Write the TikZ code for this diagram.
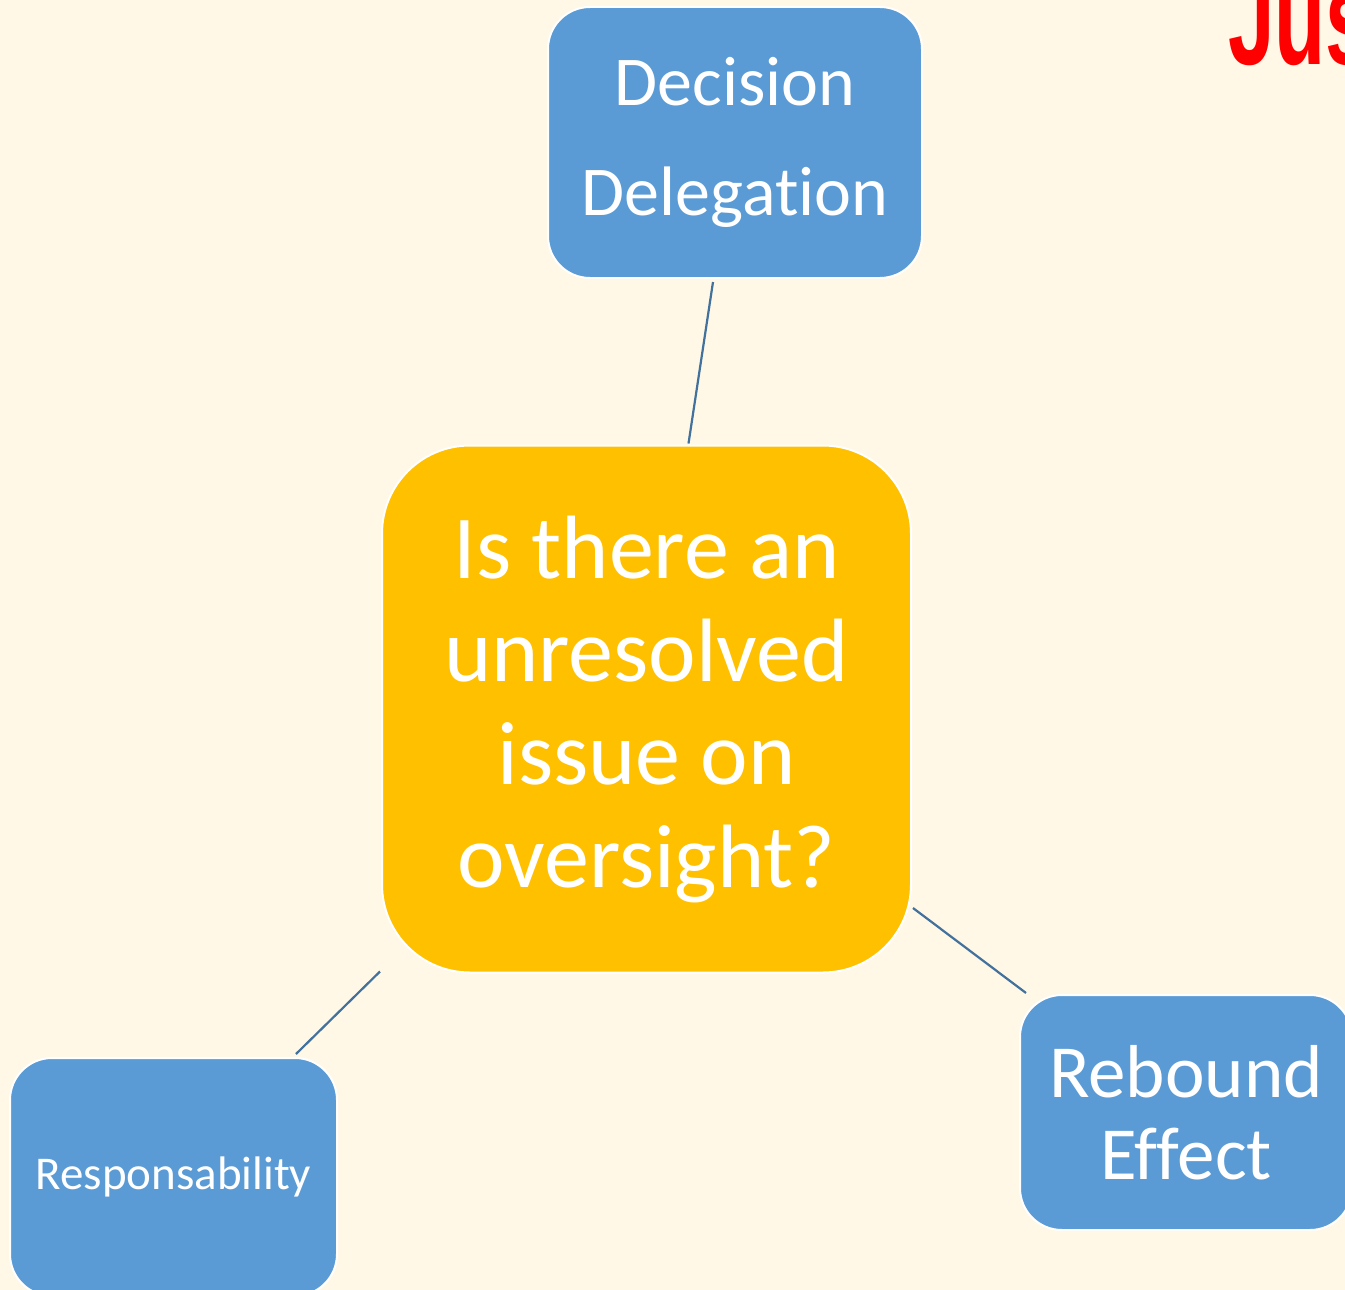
\documentclass[tikz,border=0pt]{standalone}
\usepackage{fontspec}
\setmainfont{Carlito}[Ligatures=NoCommon]
\newfontfamily\headfont{Liberation Sans}
\usepackage{tikz}
\usetikzlibrary{positioning}
\usetikzlibrary{calc}
\definecolor{mycream}{RGB}{255,248,231}
\definecolor{myblue}{RGB}{91,155,213}
\definecolor{myorange}{RGB}{255,192,0}
\definecolor{mylink}{RGB}{65,113,156}

\begin{document}
\begin{tikzpicture}[x=1pt,y=-1pt]
        \fill[mycream] (0,0) rectangle (1345,1290);
        \useasboundingbox (0,0) rectangle (1345,1290);
        \node[anchor=base west, text=red, inner sep=0, font=\headfont\bfseries\fontsize{135}{135}\selectfont] (title) at (1228,65) {\scalebox{0.62}[1]{Jus}};
        \node[fill=myorange, draw=white, line width=2pt, rounded corners=88pt, outer sep=0pt, inner sep=0pt,
              minimum width=529pt, minimum height=527pt, align=center, text=white,
              font=\fontsize{90}{103}\selectfont] (Q) at (646.5,709) {Is there an\\unresolved\\issue on\\oversight?};
        \begin{scope}[every node/.style={fill=myblue, draw=white, line width=2pt, rounded corners=42pt,
                      align=center, text=white, outer sep=0pt, inner sep=0pt}]
            \node[minimum width=374pt, minimum height=271pt, font=\fontsize{70}{110}\selectfont] (D) at (735,142.5) {Decision\\Delegation};
            \node[minimum width=327pt, minimum height=238pt, font=\fontsize{47}{56}\selectfont] (R) at (173.5,1177) {Responsability};
            \node[minimum width=332pt, minimum height=235pt, font=\fontsize{75}{82}\selectfont] (E) at (1186,1112.5) {Rebound\\Effect};
        \end{scope}
        \begin{scope}[every edge/.style={draw=mylink, line width=2.2pt}]
             \path ([xshift=-22pt,yshift=-4pt]D.south) edge ([xshift=42pt,yshift=2pt]Q.north);
             \path ([xshift=2pt,yshift=-199pt]Q.east) edge ([xshift=6pt,yshift=2pt]E.north west);
             \path ([xshift=-2pt,yshift=1pt]Q.south west) edge ([xshift=-41pt,yshift=4pt]R.north east);
        \end{scope}
\end{tikzpicture}
\end{document}
